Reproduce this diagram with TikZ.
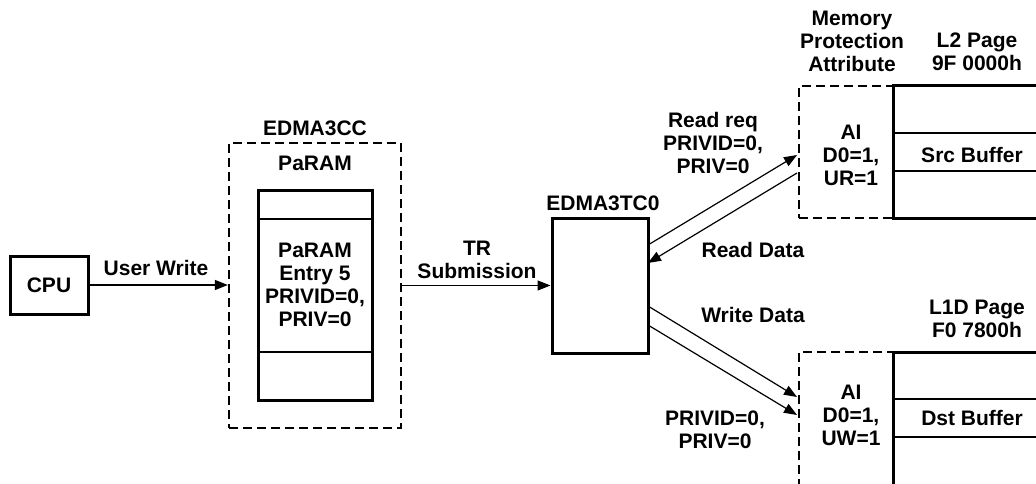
\documentclass[tikz,border=0pt]{standalone}
\usepackage{fontspec}
\setmainfont{Liberation Sans}
\usetikzlibrary{arrows.meta}
\begin{document}
\begin{tikzpicture}[x=1pt,y=-1pt,
  every node/.style={font=\fontsize{21}{23}\selectfont\bfseries, inner sep=0pt, align=center},
  thickbox/.style={draw, line width=3pt},
  dashbox/.style={draw, line width=2.2pt, dash pattern=on 9pt off 5pt},
  thinline/.style={draw, line width=1.2pt},
  conn/.style={line width=1.2pt, -{Triangle[length=13pt,width=10pt]}},
  lbl/.style={}]
\useasboundingbox (0,0) rectangle (1036,484);
% CPU
\node[thickbox, minimum width=78pt, minimum height=58pt] (cpu) at (49,285) {CPU};
% EDMA3CC
\node[dashbox, minimum width=172pt, minimum height=285pt] (cc) at (315,285.5) {};
\node (cclbl) at (315,128) {EDMA3CC};
\node (paramlbl) at (315,163) {PaRAM};
\node[thickbox, minimum width=114pt, minimum height=210pt] (param) at (315,295) {};
\draw[thinline] (258,219) coordinate (p1l) -- (372,219) coordinate (p1r);
\draw[thinline] (258,352) coordinate (p2l) -- (372,352) coordinate (p2r);
\node (entry) at (315,285) {PaRAM\\[0pt]Entry 5\\[0pt]PRIVID=0,\\[0pt]PRIV=0};
% CPU -> CC
\draw[conn] (cpu.east) -- (cc.west|-cpu.east);
\node (uw) at (156,268) {User Write};
% EDMA3TC0
\node[thickbox, minimum width=96pt, minimum height=135pt] (tc) at (600,285.5) {};
\node (tclbl) at (603,203) {EDMA3TC0};
\draw[conn] (cc.east|-tc.west) -- (tc.west);
\node (trlbl) at (477,260) {TR\\Submission};
% Top memory
\node[dashbox, minimum width=94pt, minimum height=132pt] (mpa1) at (846,152) {};
\draw[line width=3pt] (1036,86) coordinate (t1r) -- (893,86) -- (893,218) -- (1036,218) coordinate (b1r);
\draw[thinline] (893,133) -- (1036,133);
\draw[thinline] (893,171) -- (1036,171);
\node (src) at (972,155) {Src Buffer};
\node (ai1) at (851,155) {AI\\D0=1,\\UR=1};
\node (mpalbl) at (852,41) {Memory\\Protection\\Attribute};
\node (l2lbl) at (977,52) {L2 Page\\9F 0000h};
% Bottom memory
\node[dashbox, minimum width=94pt, minimum height=133pt] (mpa2) at (846,418.5) {};
\draw[line width=3pt] (1036,352) coordinate (t2r) -- (893,352) -- (893,486) ;
\draw[thinline] (893,399) -- (1036,399);
\draw[thinline] (893,437) -- (1036,437);
\node (dst) at (972,418) {Dst Buffer};
\node (ai2) at (851,415) {AI\\D0=1,\\UW=1};
\node (l1lbl) at (977,319) {L1D Page\\F0 7800h};
% Read/write arrows
\coordinate (rq0) at (648,245);
\coordinate (rq1) at (797,155);
\coordinate (rd0) at (797,173);
\coordinate (rd1) at (648,263);
\coordinate (wd0) at (648,306);
\coordinate (wd1) at (797,397);
\coordinate (wp0) at (648,325);
\coordinate (wp1) at (797,415);
\draw[conn] (rq0) -- (rq1);
\draw[conn] (rd0) -- (rd1);
\draw[conn] (wd0) -- (wd1);
\draw[conn] (wp0) -- (wp1);
\node (rqlbl) at (713,143) {Read req\\PRIVID=0,\\PRIV=0};
\node (rdlbl) at (753,250) {Read Data};
\node (wdlbl) at (753,315) {Write Data};
\node (wplbl) at (715,430) {PRIVID=0,\\PRIV=0};
\end{tikzpicture}
\end{document}
